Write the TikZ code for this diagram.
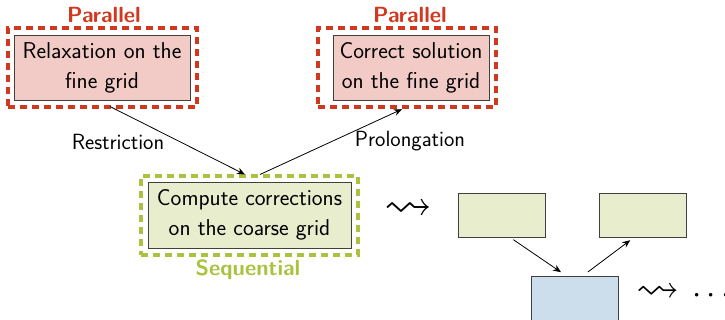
\documentclass[tikz,border=0pt]{standalone}
\usepackage{amssymb}
\usetikzlibrary{arrows.meta}
\definecolor{pred}{HTML}{D0391F}
\definecolor{pfill}{HTML}{F2CBC6}
\definecolor{sgreen}{HTML}{A9C23F}
\definecolor{gfill}{HTML}{E8EDCE}
\definecolor{bfill}{HTML}{CCDEEC}
\definecolor{edge}{HTML}{404040}
\tikzset{
  inbox/.style={draw=edge, line width=0.6pt, rectangle, align=center, inner sep=0pt,
    font=\sffamily\fontsize{17.2}{22.5}\selectfont},
  pbox/.style={inbox, fill=pfill},
  gbox/.style={inbox, fill=gfill},
  smallg/.style={draw=edge, line width=0.6pt, fill=gfill, minimum width=65.25pt, minimum height=33pt, inner sep=0pt},
  smallb/.style={draw=edge, line width=0.6pt, fill=bfill, minimum width=65.25pt, minimum height=33pt, inner sep=0pt},
  outer/.style={rectangle, line width=2.3pt, dash pattern=on 5.5pt off 3.5pt, inner sep=0pt},
  tag/.style={font=\sffamily\bfseries\fontsize{16.5}{18}\selectfont},
  lbl/.style={font=\sffamily\fontsize{16.5}{18}\selectfont},
  arr/.style={-{Stealth[length=6pt,width=5pt]}, line width=0.6pt},
  squig/.style={inner sep=0pt}
}
\newcommand{\mysquig}[1]{\scalebox{#1}{\fontsize{24}{24}\selectfont$\leadsto$}}
\begin{document}
\begin{tikzpicture}[x=0.75pt,y=-0.75pt]
\useasboundingbox (0,0) rectangle (725,320);
% outer dashed frames
\node[outer, draw=pred, minimum width=141.75pt, minimum height=59.25pt] (o1) at (102.5,67.5) {};
\node[outer, draw=pred, minimum width=133.5pt, minimum height=59.25pt] (o2) at (407,67.5) {};
\node[outer, draw=sgreen, minimum width=162.75pt, minimum height=59.25pt] (og) at (249.5,215.5) {};
% inner boxes
\node[pbox, minimum width=132pt, minimum height=48.75pt] (b1) at (102,67.5) {Relaxation on the\\fine grid};
\node[pbox, minimum width=117pt, minimum height=48.75pt] (b2) at (411,67.5) {Correct solution\\on the fine grid};
\node[gbox, minimum width=152.25pt, minimum height=49.5pt] (bg) at (249.5,215) {Compute corrections\\on the coarse grid};
% tags
\node[tag, text=pred] (t1) at (104,15) {Parallel};
\node[tag, text=pred] (t2) at (410,15) {Parallel};
\node[tag, text=sgreen] (t3) at (248,270) {Sequential};
% arrows
\draw[arr] ([xshift=5.6pt,yshift=1.5pt]o1.south) -- ([xshift=-3.4pt]og.north);
\draw[arr] ([xshift=7.9pt]og.north) -- ([xshift=-3.75pt,yshift=-0.5pt]o2.south);
\node[lbl] (lr) at (118,142) {Restriction};
\node[lbl] (lp) at (410,141) {Prolongation};
% small scheme
\node[squig] (s1) at (408,210) {\mysquig{1.5}};
\node[smallg] (g1) at (501.5,215) {};
\node[smallg] (g2) at (642.5,215) {};
\node[smallb] (bb) at (574.5,298) {};
\draw[arr, shorten <=3pt, shorten >=4.5pt] ([xshift=6.4pt]g1.south) -- ([xshift=-6.4pt]bb.north);
\draw[arr, shorten <=4.5pt, shorten >=3.5pt] ([xshift=6.4pt]bb.north) -- ([xshift=-6.4pt]g2.south);
\node[squig] (s2) at (658,293) {\mysquig{1.35}};
\node[font=\fontsize{28}{28}\selectfont, anchor=west, inner sep=0pt] (dots) at (692,296) {$\cdots$};
\end{tikzpicture}
\end{document}
